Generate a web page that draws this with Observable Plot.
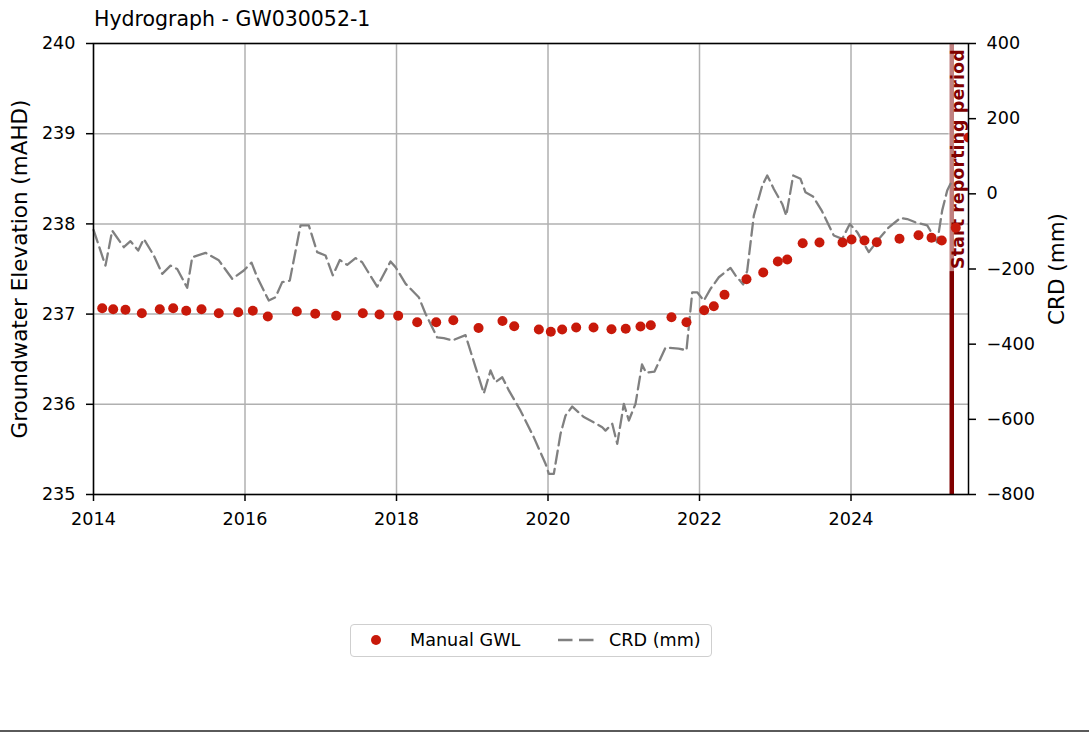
<!DOCTYPE html>
<html><head><meta charset="utf-8">
<script src="https://cdn.jsdelivr.net/npm/d3@7"></script>
<script src="https://cdn.jsdelivr.net/npm/@observablehq/plot@0.6"></script>
<style>
body{margin:0;background:#fff;font-family:"DejaVu Sans",sans-serif;}
#wrap{position:relative;width:1089px;height:733px;overflow:hidden;background:#fff;}
#title{position:absolute;left:94px;top:9px;font-size:20.5px;line-height:1;color:#000;white-space:nowrap;}
#legend{position:absolute;left:350px;top:624px;width:362px;height:33px;border:1.5px solid #cfcfcf;border-radius:4px;box-sizing:border-box;background:#fff;}
#legend svg{position:absolute;left:0;top:0;}
#bottomline{position:absolute;left:0;top:730px;width:1089px;height:2px;background:#5a5a5a;}
</style></head>
<body><div id="wrap"><div id="chart"></div><div id="title">Hydrograph - GW030052-1</div><div id="legend"></div><div id="bottomline"></div></div>
<script>
// ---- data ----
const gwlYear = [2014.115, 2014.26, 2014.422, 2014.638, 2014.875, 2015.052, 2015.224, 2015.426, 2015.654, 2015.91,
  2016.103, 2016.301, 2016.684, 2016.927, 2017.204, 2017.555, 2017.776, 2018.022, 2018.273, 2018.524,
  2018.75, 2019.083, 2019.399, 2019.554, 2019.879, 2020.037, 2020.187, 2020.372, 2020.601, 2020.838,
  2021.026, 2021.221, 2021.357, 2021.63, 2021.828, 2022.062, 2022.189, 2022.33, 2022.62, 2022.841,
  2023.034, 2023.158, 2023.362, 2023.584, 2023.888, 2024.007, 2024.178, 2024.34, 2024.64, 2024.891,
  2025.063, 2025.198, 2025.383, 2025.55];
const gwlLevel = [237.065, 237.054, 237.048, 237.010, 237.054, 237.065, 237.037, 237.054, 237.010, 237.021,
  237.037, 236.973, 237.029, 237.003, 236.981, 237.010, 236.996, 236.981, 236.910, 236.910,
  236.932, 236.846, 236.923, 236.865, 236.829, 236.804, 236.829, 236.851, 236.851, 236.833,
  236.838, 236.863, 236.877, 236.966, 236.910, 237.043, 237.088, 237.214, 237.387, 237.461,
  237.583, 237.605, 237.785, 237.794, 237.794, 237.827, 237.816, 237.797, 237.835, 237.875,
  237.846, 237.816, 237.957, 238.958];
const crdYear = [2014.0, 2014.158, 2014.247, 2014.4, 2014.488, 2014.59, 2014.664, 2014.796, 2014.907, 2015.017,
  2015.105, 2015.237, 2015.303, 2015.479, 2015.654, 2015.831, 2015.984, 2016.086, 2016.161, 2016.314,
  2016.403, 2016.491, 2016.591, 2016.733, 2016.842, 2016.953, 2017.063, 2017.159, 2017.252, 2017.349,
  2017.459, 2017.547, 2017.613, 2017.745, 2017.921, 2017.987, 2018.119, 2018.294, 2018.383, 2018.537,
  2018.624, 2018.739, 2018.911, 2019.043, 2019.153, 2019.241, 2019.307, 2019.396, 2019.483, 2019.637,
  2019.813, 2019.967, 2020.011, 2020.077, 2020.165, 2020.231, 2020.32, 2020.473, 2020.605, 2020.716,
  2020.759, 2020.848, 2020.914, 2021.001, 2021.067, 2021.155, 2021.241, 2021.294, 2021.406, 2021.551,
  2021.723, 2021.828, 2021.904, 2021.97, 2022.057, 2022.145, 2022.255, 2022.409, 2022.475, 2022.577,
  2022.63, 2022.717, 2022.828, 2022.894, 2022.981, 2023.092, 2023.145, 2023.237, 2023.333, 2023.399,
  2023.498, 2023.611, 2023.773, 2023.884, 2023.984, 2024.082, 2024.235, 2024.367, 2024.499, 2024.654,
  2024.742, 2024.852, 2025.006, 2025.138, 2025.204, 2025.27, 2025.314];
const crdValue = [-96, -191, -98, -142, -126, -151, -120, -164, -213, -191,
  -200, -250, -169, -157, -177, -226, -204, -183, -222, -284,
  -275, -235, -231, -84, -84, -155, -164, -217, -176, -189,
  -171, -182, -204, -247, -180, -195, -239, -275, -319, -382,
  -384, -390, -376, -461, -531, -470, -501, -488, -523, -577,
  -648, -718, -745, -745, -639, -590, -566, -594, -608, -621,
  -630, -612, -665, -559, -603, -559, -454, -476, -473, -409,
  -412, -416, -262, -262, -284, -253, -222, -197, -217, -241,
  -204, -58, 22, 49, 13, -27, -58, 49, 40, 4,
  -7, -44, -111, -120, -80, -102, -155, -120, -89, -64,
  -67, -76, -84, -129, -44, 9, 27];
const xTicks = [2014, 2016, 2018, 2020, 2022, 2024];
const yTicksLeft = [235, 236, 237, 238, 239, 240];
const yTicksRight = [400, 200, 0, -200, -400, -600, -800];
const xDomain = [2014, 2025.551];
const leftDomain = [235, 240];
const rightDomain = [-800, 400];
const reportStart = 2025.33;
const reportLabelFrom = -200;
const reportLabel = "Start reporting period";
const seriesNames = ["Manual GWL", "CRD (mm)"];

// ---- helpers: map right-axis values onto the left scale ----
const toL = c => leftDomain[0] + (c - rightDomain[0]) * (leftDomain[1] - leftDomain[0]) / (rightDomain[1] - rightDomain[0]);
const fromL = v => rightDomain[0] + (v - leftDomain[0]) * (rightDomain[1] - rightDomain[0]) / (leftDomain[1] - leftDomain[0]);
const fmtR = c => { const r = Math.round(c); return (r < 0 ? "\u2212" : "") + Math.abs(r); };

const gwl = gwlYear.map((t, i) => ({t, v: gwlLevel[i]}));
const crd = crdYear.map((t, i) => ({t, v: toL(crdValue[i])}));

const RED = "#c8190a", GREY = "#808080", DARKRED = "#800000";
const FS = 17.6;

const chart = Plot.plot({
  width: 1089, height: 733,
  marginLeft: 93, marginRight: 121, marginTop: 43, marginBottom: 239,
  style: {fontFamily: "DejaVu Sans", fontSize: FS + "px", color: "#000", background: "transparent"},
  x: {domain: xDomain},
  y: {domain: leftDomain},
  marks: [
    Plot.gridX(xTicks, {stroke: "#b0b0b0", strokeOpacity: 1, strokeWidth: 1.5}),
    Plot.gridY(yTicksLeft, {stroke: "#b0b0b0", strokeOpacity: 1, strokeWidth: 1.5}),
    Plot.ruleX([reportStart], {stroke: DARKRED, strokeWidth: 4.5}),
    Plot.rect([reportStart], {x1: d => d, x2: d => d, y1: toL(reportLabelFrom - 7), y2: leftDomain[1],
      insetLeft: -3, insetRight: -16, fill: "white", fillOpacity: 0.5}),
    Plot.text([reportLabel], {x: reportStart, y: toL(reportLabelFrom), rotate: -90, textAnchor: "start",
      dx: 6.5, fill: DARKRED, fontWeight: "bold", fontSize: FS}),
    Plot.line(crd, {x: "t", y: "v", stroke: GREY, strokeWidth: 2.3, strokeDasharray: "13,5.5"}),
    Plot.dot(gwl, {x: "t", y: "v", r: 5, fill: RED, stroke: "none", clip: true}),
    Plot.frame({stroke: "#000", strokeWidth: 1.5}),
    Plot.axisX(xTicks, {tickFormat: d => String(d), tickSize: 7, tickPadding: 11, strokeWidth: 1.5, label: null, fontSize: FS}),
    Plot.axisY(yTicksLeft, {anchor: "left", tickFormat: d => String(d), tickSize: 7, tickPadding: 11, strokeWidth: 1.5, label: null, fontSize: FS}),
    Plot.axisY(yTicksRight.map(toL), {anchor: "right", tickFormat: d => fmtR(fromL(d)), tickSize: 7, tickPadding: 11, strokeWidth: 1.5, label: null, fontSize: FS}),
    Plot.text(["Groundwater Elevation (mAHD)"], {frameAnchor: "left", textAnchor: "middle", rotate: -90, dx: -73, fontSize: 21.5}),
    Plot.text(["CRD (mm)"], {frameAnchor: "right", textAnchor: "middle", rotate: -90, dx: 89, fontSize: 21.5})
  ]
});
document.getElementById("chart").appendChild(chart);

// ---- legend ----
const lg = d3.select("#legend").append("svg").attr("width", 360).attr("height", 31)
  .style("font-family", "DejaVu Sans").style("font-size", FS + "px");
lg.append("circle").attr("cx", 25).attr("cy", 15).attr("r", 5).attr("fill", RED);
lg.append("text").attr("x", 59).attr("y", 21).text(seriesNames[0]);
lg.append("line").attr("x1", 207).attr("x2", 244).attr("y1", 15).attr("y2", 15)
  .attr("stroke", GREY).attr("stroke-width", 2.5).attr("stroke-dasharray", "14.5,6.5");
lg.append("text").attr("x", 258).attr("y", 21).text(seriesNames[1]);
</script>
</body></html>
